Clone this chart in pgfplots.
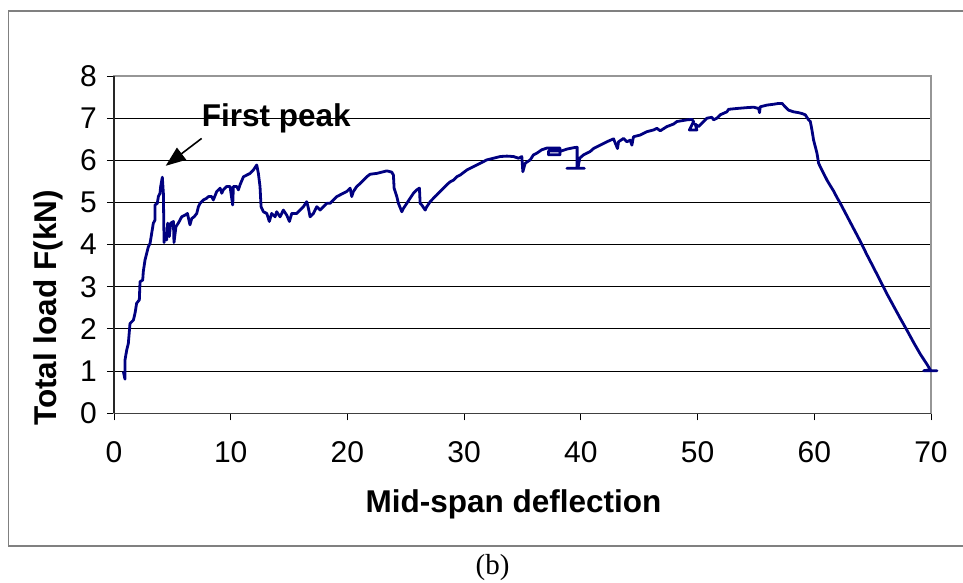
\documentclass[border=0pt]{standalone}
\usepackage{fontspec}
\setmainfont{Liberation Sans}
\newfontfamily\seriffont{Liberation Serif}
\usepackage{pgfplots}
\pgfplotsset{compat=1.18}
\usetikzlibrary{arrows.meta}
\definecolor{navy}{RGB}{0,0,128}
\definecolor{framegray}{RGB}{128,128,128}
\definecolor{boxgray}{RGB}{150,150,150}

\pgfplotstableread{
x y
0.80 0.99
0.94 0.81
0.94 1.26
1.09 1.50
1.23 1.66
1.37 2.13
1.66 2.21
1.80 2.37
1.94 2.61
2.17 2.69
2.23 3.12
2.46 3.16
2.51 3.36
2.66 3.64
2.80 3.79
2.94 3.95
3.09 4.03
3.23 4.27
3.37 4.51
3.51 4.58
3.51 4.94
3.71 4.98
3.80 5.14
3.94 5.22
4.00 5.38
4.14 5.60
4.23 5.22
4.29 4.05
4.37 4.27
4.51 4.11
4.60 4.51
4.74 4.19
4.86 4.51
5.09 4.55
5.14 4.05
5.31 4.43
5.51 4.51
5.80 4.66
6.09 4.70
6.29 4.74
6.51 4.47
6.66 4.62
6.86 4.66
7.09 4.74
7.23 4.90
7.37 4.98
7.66 5.06
7.94 5.10
8.09 5.14
8.37 5.14
8.51 5.06
8.80 5.26
9.09 5.34
9.23 5.22
9.37 5.30
9.66 5.38
9.94 5.38
10.17 4.94
10.23 5.38
10.51 5.38
10.66 5.30
10.80 5.42
11.09 5.61
11.37 5.65
11.66 5.69
11.94 5.77
12.23 5.89
12.37 5.69
12.51 5.38
12.60 4.90
12.80 4.78
13.09 4.74
13.31 4.55
13.51 4.74
13.80 4.66
13.94 4.78
14.23 4.66
14.51 4.82
14.80 4.70
15.03 4.55
15.23 4.74
15.66 4.74
15.94 4.82
16.23 4.90
16.51 5.02
16.66 4.86
16.80 4.66
17.09 4.74
17.37 4.90
17.66 4.82
17.94 4.90
18.23 4.98
18.51 4.98
18.80 5.06
19.09 5.14
19.37 5.18
19.94 5.26
20.23 5.34
20.37 5.14
20.51 5.26
20.80 5.38
21.09 5.45
21.37 5.53
21.66 5.61
21.94 5.67
22.51 5.69
23.09 5.73
23.37 5.75
23.80 5.72
23.94 5.65
24.00 5.34
24.23 5.14
24.37 4.98
24.66 4.78
24.80 4.86
25.09 4.98
25.37 5.10
25.66 5.22
25.94 5.30
26.17 5.34
26.23 4.98
26.37 4.94
26.66 4.82
26.80 4.90
27.09 5.02
27.37 5.10
27.66 5.18
27.94 5.26
28.23 5.34
28.51 5.42
28.80 5.49
29.09 5.53
29.37 5.61
29.66 5.65
29.94 5.71
30.23 5.77
30.51 5.81
30.80 5.85
31.37 5.93
31.94 6.01
32.51 6.05
33.09 6.09
33.66 6.10
34.23 6.09
34.66 6.05
34.94 6.09
35.03 5.73
35.23 5.93
35.66 6.01
35.94 6.13
36.23 6.17
36.65 6.25
37.08 6.29
38.22 6.29
38.22 6.13
37.22 6.13
37.22 6.22
38.30 6.22
38.85 6.27
39.40 6.30
39.68 6.31
39.68 5.81
38.80 5.81
40.30 5.81
39.75 5.81
39.90 6.05
40.23 6.13
40.51 6.17
40.80 6.21
41.09 6.28
41.66 6.36
42.23 6.44
42.80 6.51
43.14 6.28
43.23 6.44
43.66 6.52
43.94 6.44
44.23 6.48
44.37 6.36
44.51 6.56
45.09 6.60
45.66 6.68
46.23 6.72
46.51 6.76
46.80 6.70
47.37 6.80
47.94 6.86
48.23 6.92
49.09 6.96
49.51 6.97
49.66 6.92
49.30 6.72
49.94 6.72
49.80 6.86
50.09 6.80
50.23 6.84
50.51 6.92
50.80 7.00
51.23 7.02
51.37 6.96
51.66 7.00
51.94 7.08
52.51 7.15
52.66 7.21
53.37 7.23
54.23 7.25
54.80 7.26
55.23 7.23
55.31 7.13
55.37 7.27
55.94 7.31
56.51 7.33
56.94 7.35
57.23 7.35
57.51 7.27
57.80 7.19
58.23 7.15
58.66 7.13
58.94 7.11
59.23 7.08
59.51 6.96
59.66 6.92
59.80 6.72
59.94 6.48
60.09 6.32
60.23 6.17
60.37 5.93
60.51 5.85
60.80 5.69
61.09 5.53
61.37 5.40
61.66 5.27
61.94 5.12
62.23 4.98
62.80 4.68
63.37 4.38
63.94 4.08
64.51 3.76
65.09 3.45
65.66 3.14
66.23 2.83
66.80 2.54
67.37 2.25
67.94 1.97
68.51 1.68
69.09 1.40
69.66 1.16
69.94 1.03
69.37 1.01
70.51 1.01
70.00 1.01
}\loaddata

\begin{document}
\begin{tikzpicture}[x=1pt,y=1pt]
\path[use as bounding box] (0,0) rectangle (963,583);
\draw[framegray, line width=1.2pt] (964,572) -- (8.5,572) -- (8.5,37) -- (964,37);
\begin{axis}[
  at={(114pt,169.7pt)}, anchor=south west,
  scale only axis, width=817pt, height=337.3pt,
  xmin=0, xmax=70, ymin=0, ymax=8,
  xtick={0,10,...,70}, ytick={0,1,...,8},
  xtick pos=bottom, ytick pos=left,
  tick align=outside, major tick length=7pt,
  tick style={black, line width=1pt},
  axis line style={draw=boxgray, line width=1.2pt},
  ymajorgrids, major grid style={black, line width=1pt},
  /pgf/number format/assume math mode=true,
  ticklabel style={font=\fontsize{30}{32}\selectfont, inner sep=0pt},
  yticklabel style={anchor=east, xshift=-10pt},
  xticklabel style={anchor=north, yshift=-21pt},
  xlabel={\bfseries Mid-span deflection},
  ylabel={\bfseries Total load F(kN)},
  label style={font=\fontsize{31.5}{34}\selectfont},
  xlabel style={at={(axis description cs:0.489,-0.2947)}, anchor=base},
  ylabel style={at={(axis description cs:-0.0698,0.312)}, anchor=base},
  clip=false,
]
\draw[black!85, line width=1.2pt] (rel axis cs:0,0) -- (rel axis cs:0,1);
\draw[black!75, line width=1.2pt] (rel axis cs:0,0) -- (rel axis cs:1,0);
\addplot[navy, line width=2.8pt, line join=round, mark=none] table[x=x,y=y] {\loaddata};
\draw[black, line width=1.6pt, -{Triangle[length=20pt,width=15pt]}] (axis cs:7.51,6.52) -- (axis cs:4.43,5.87);
\node[anchor=base west, inner sep=0pt, font=\fontsize{31.5}{34}\selectfont\bfseries] at (axis cs:7.51,6.80) {First peak};
\end{axis}
\node[font=\seriffont\fontsize{29}{32}\selectfont, inner sep=0pt] at (492.5,15) {(b)};
\end{tikzpicture}
\end{document}
